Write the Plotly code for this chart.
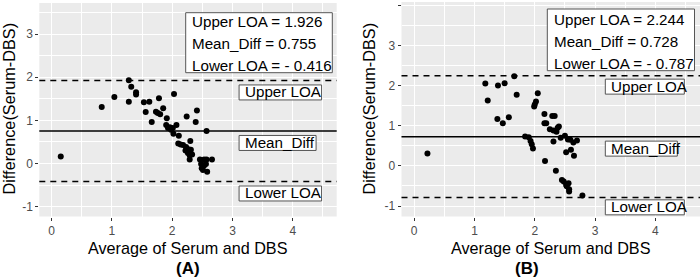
import plotly.graph_objects as go

# ---------------- data ----------------
avg_A = [0.15, 0.83, 1.04, 1.28, 1.32, 1.28, 1.40, 1.40, 1.53, 1.62, 1.56, 1.66, 1.78, 1.73,
         1.76, 1.80, 1.85, 1.91, 2.03, 1.90, 1.93, 1.98, 2.07, 2.02, 2.11, 2.24, 2.41, 2.39,
         2.57, 2.10, 2.14, 2.18, 2.30, 2.23, 2.27, 2.22, 2.26, 2.31, 2.29, 2.33, 2.29, 2.46,
         2.53, 2.57, 2.66, 2.48, 2.53, 2.49, 2.51, 2.58, 2.56, 2.01, 1.96]
diff_A = [0.16, 1.31, 1.54, 1.93, 1.78, 1.43, 1.65, 1.60, 1.42, 1.43, 1.19, 0.96, 1.51, 1.20,
          1.17, 1.14, 1.28, 1.05, 1.61, 0.89, 0.82, 0.78, 0.89, 0.69, 0.64, 1.09, 1.23, 0.96,
          0.75, 0.46, 0.44, 0.43, 0.52, 0.38, 0.33, 0.30, 0.24, 0.32, 0.19, 0.21, 0.09, 0.09,
          0.09, 0.09, 0.09, -0.01, -0.05, -0.11, -0.15, -0.19, -0.01, 0.82, 0.84]

avg_B = [0.22, 1.18, 1.22, 1.39, 1.50, 1.66, 1.70, 1.38, 1.47, 1.57, 2.05, 2.02, 2.00, 1.99,
         1.84, 1.90, 1.93, 1.95, 1.97, 2.16, 2.16, 2.19, 2.29, 2.33, 2.25, 2.31, 2.38, 2.36,
         2.40, 2.17, 2.31, 2.35, 2.43, 2.50, 2.55, 2.64, 2.70, 2.59, 2.52, 2.60, 2.65, 2.45,
         2.48, 2.52, 2.56, 2.53, 2.57, 2.57, 2.79]
diff_B = [0.31, 2.05, 1.63, 2.00, 2.06, 2.23, 1.77, 1.17, 1.06, 1.21, 1.81, 1.60, 1.53, 1.48,
          0.73, 0.71, 0.62, 0.54, 0.43, 1.29, 1.06, 1.06, 1.24, 1.24, 0.91, 0.88, 0.95, 0.85,
          0.98, 0.12, 0.61, -0.12, 0.70, 0.75, 0.66, 0.58, 0.63, 0.65, 0.34, 0.40, 0.25, -0.35,
          -0.39, -0.47, -0.43, -0.51, -0.58, -0.64, -0.74]

stats_A = {"upper": 1.926, "mean": 0.755, "lower": -0.416}
stats_B = {"upper": 2.244, "mean": 0.728, "lower": -0.787}
stat_text_A = ["Upper LOA = 1.926", "Mean_Diff = 0.755", "Lower LOA = - 0.416"]
stat_text_B = ["Upper LOA = 2.244", "Mean_Diff = 0.728", "Lower LOA = - 0.787"]
x_ticks = [0, 1, 2, 3, 4]
y_ticks_A = [-1, 0, 1, 2, 3]
y_ticks_B = [-1, 0, 1, 2, 3, 4]
x_title = "Average of Serum and DBS"
y_title = "Difference(Serum-DBS)"
captions = ["(A)", "(B)"]

# ---------------- layout helpers ----------------
W, H = 700, 278
FONT = "Liberation Sans, Arial, Helvetica, sans-serif"
def px(x):
    return x / W
def py(y):
    return 1 - y / H

fig = go.Figure()

fig.add_trace(go.Scatter(x=avg_A, y=diff_A, mode="markers", xaxis="x", yaxis="y",
                         marker=dict(color="black", size=6), showlegend=False))
fig.add_trace(go.Scatter(x=avg_B, y=diff_B, mode="markers", xaxis="x2", yaxis="y2",
                         marker=dict(color="black", size=6), showlegend=False))

def axis_common(tickvals):
    return dict(
        tickvals=tickvals, ticktext=[str(v) for v in tickvals],
        showgrid=True, gridcolor="white", gridwidth=1.2,
        minor=dict(dtick=0.5, tick0=0, showgrid=True, gridcolor="white", gridwidth=0.5, ticks=""),
        zeroline=False, showline=False,
        ticks="outside", ticklen=3, tickwidth=1, tickcolor="#333333",
        tickfont=dict(family=FONT, size=12, color="#4D4D4D"),
        fixedrange=True,
    )

xa = axis_common(x_ticks); xa.update(domain=[px(39.3), px(336.7)], range=[-0.206, 4.73], anchor="y")
ya = axis_common(y_ticks_A); ya.update(domain=[py(216.5), py(3)], range=[-1.23, 3.72], anchor="x")
xb = axis_common(x_ticks); xb.update(domain=[px(401.5), px(700)], range=[-0.21, 4.74], anchor="y2")
yb = axis_common(y_ticks_B); yb.update(domain=[py(216.5), py(2)], range=[-1.26, 4.08], anchor="x2")

shapes = []
annotations = []

def add_panel(stats, xref, yref, label_x, offsets, box_w, stat_text, box, lines_y, text_x):
    for key, dash in (("upper", "6px,5px"), ("mean", "solid"), ("lower", "6px,5px")):
        shapes.append(dict(type="line", xref=xref + " domain", yref=yref, x0=0, x1=1,
                           y0=stats[key], y1=stats[key],
                           line=dict(color="black", width=1.5, dash=dash), layer="above"))
    for key, name, w in (("upper", "Upper LOA", box_w[0]), ("mean", "Mean_Diff", box_w[1]),
                         ("lower", "Lower LOA", box_w[2])):
        yc = stats[key] - offsets[key]
        shapes.append(dict(type="rect", xref=xref, yref=yref, xsizemode="pixel", ysizemode="pixel",
                           xanchor=label_x, yanchor=yc, x0=0, x1=w, y0=-7.5, y1=7.5,
                           fillcolor="white", line=dict(color="#555555", width=1), layer="above"))
        annotations.append(dict(text=name, xref=xref, yref=yref, x=label_x, y=yc,
                                xanchor="left", yanchor="middle", xshift=3.5, yshift=0.5,
                                showarrow=False,
                                font=dict(family=FONT, size=15.2, color="black")))
    x0, x1, y0, y1 = box
    shapes.append(dict(type="rect", xref="paper", yref="paper", x0=px(x0), x1=px(x1),
                       y0=py(y1), y1=py(y0), fillcolor="white",
                       line=dict(color="#555555", width=1), layer="above"))
    for t, yy in zip(stat_text, lines_y):
        annotations.append(dict(text=t, xref="paper", yref="paper", x=px(text_x), y=py(yy),
                                xanchor="left", yanchor="middle", showarrow=False,
                                font=dict(family=FONT, size=15.2, color="black")))

add_panel(stats_A, "x", "y", 3.11, {"upper": 0.28, "mean": 0.28, "lower": 0.28},
          (82.5, 77, 82.5), stat_text_A, (185.7, 332.3, 12.7, 72.7), (22, 43.5, 65.5), 189.5)
add_panel(stats_B, "x2", "y2", 3.17, {"upper": 0.271, "mean": 0.298, "lower": 0.245},
          (79, 72, 79), stat_text_B, (547.3, 694.5, 9, 70.7), (19, 41.5, 63.5), 552)

# axis titles and captions
for cx, ytx in ((188, 8.5), (550.7, 368.5)):
    annotations.append(dict(text=x_title, xref="paper", yref="paper", x=px(cx), y=py(247.5),
                            xanchor="center", yanchor="middle", showarrow=False,
                            font=dict(family=FONT, size=16.2, color="black")))
    annotations.append(dict(text=y_title, xref="paper", yref="paper", x=px(ytx), y=py(109),
                            xanchor="center", yanchor="middle", showarrow=False, textangle=-90,
                            font=dict(family=FONT, size=16.3, color="black")))
cap_pos = [(188, 268.5), (526.5, 268.5)]
for cap, (cx, cy) in zip(captions, cap_pos):
    annotations.append(dict(text="<b>" + cap + "</b>", xref="paper", yref="paper", x=px(cx), y=py(cy),
                            xanchor="center", yanchor="middle", showarrow=False,
                            font=dict(family=FONT, size=17, color="black")))

fig.update_layout(
    width=W, height=H,
    margin=dict(l=0, r=0, t=0, b=0),
    paper_bgcolor="white", plot_bgcolor="#EBEBEB",
    xaxis=xa, yaxis=ya, xaxis2=xb, yaxis2=yb,
    shapes=shapes, annotations=annotations,
    showlegend=False,
)

fig.write_html("out.html", config={"displayModeBar": False},
               post_script="document.body.style.margin='0';document.body.style.padding='0';")
